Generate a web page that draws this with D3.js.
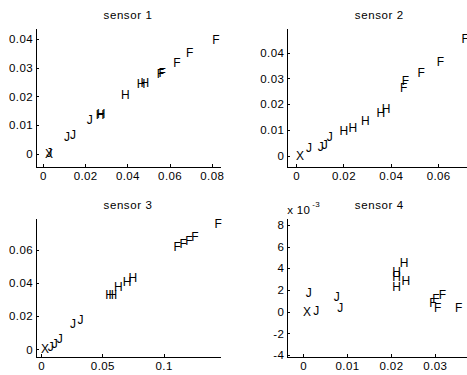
<!DOCTYPE html>
<html>
<head>
<meta charset="utf-8">
<script src="https://cdn.jsdelivr.net/npm/d3@7"></script>
<style>
  body { margin: 0; background: #fff; }
  svg { display: block; opacity: 0.999; }
  text { font-family: "Liberation Sans", Arial, sans-serif; fill: #000; }
</style>
</head>
<body>
<svg id="svg"></svg>
<script>
// class letters and values
var labels1 = ["X", "J", "J", "J", "J", "H", "H", "H", "H", "H", "F", "F", "F", "F", "F"];
var x1 = [0.001, 0.0015, 0.00995, 0.0128, 0.0207, 0.025, 0.0255, 0.037, 0.0444, 0.0462, 0.0539, 0.0548, 0.0618, 0.0678, 0.0802];
var y1 = [0, 0.0005, 0.0058, 0.0066, 0.0118, 0.0136, 0.014, 0.0205, 0.0243, 0.0248, 0.0278, 0.028, 0.0318, 0.035, 0.0397];

var labels2 = ["X", "J", "J", "J", "J", "H", "H", "H", "H", "H", "F", "F", "F", "F", "F"];
var x2 = [0, 0.0042, 0.0092, 0.0108, 0.013, 0.0183, 0.0221, 0.0274, 0.034, 0.0362, 0.0439, 0.0446, 0.0513, 0.0594, 0.0699];
var y2 = [0, 0.0029, 0.0035, 0.0042, 0.0074, 0.0096, 0.0106, 0.0136, 0.0165, 0.0181, 0.0264, 0.029, 0.032, 0.0363, 0.0453];

var labels3 = ["X", "J", "J", "J", "J", "J", "H", "H", "H", "H", "H", "F", "F", "F", "F", "F"];
var x3 = [0, 0.0055, 0.0087, 0.0128, 0.0237, 0.0297, 0.0523, 0.055, 0.0596, 0.0667, 0.0713, 0.108, 0.113, 0.1176, 0.1225, 0.1416];
var y3 = [0, 0.0012, 0.0032, 0.0062, 0.0151, 0.0177, 0.0328, 0.0328, 0.0378, 0.0405, 0.0429, 0.062, 0.0634, 0.0654, 0.0677, 0.0755];

// sensor 4 y values are in units of 10^-3
var labels4 = ["X", "J", "J", "J", "J", "H", "H", "H", "H", "H", "F", "F", "F", "F", "F"];
var x4 = [0, 0.0006, 0.0023, 0.007, 0.0078, 0.0203, 0.0203, 0.0203, 0.022, 0.0224, 0.0287, 0.0294, 0.0298, 0.0309, 0.0346];
var y4 = [0, 1.7, 0.06, 1.38, 0.37, 3.7, 3.2, 2.3, 4.46, 2.86, 0.77, 1.17, 0.31, 1.54, 0.31];

var xticks1 = [0, 0.02, 0.04, 0.06, 0.08], yticks1 = [0, 0.01, 0.02, 0.03, 0.04];
var xticks2 = [0, 0.02, 0.04, 0.06], yticks2 = [0, 0.01, 0.02, 0.03, 0.04];
var xticks3 = [0, 0.05, 0.1], yticks3 = [0, 0.02, 0.04, 0.06];
var xticks4 = [0, 0.01, 0.02, 0.03], yticks4 = [-4, -2, 0, 2, 4, 6, 8];

var width = 467, height = 375;
var svg = d3.select("#svg").attr("width", width).attr("height", height);

var panels = [
  {title: "sensor 1", labels: labels1, xs: x1, ys: y1, xt: xticks1, yt: yticks1,
   xdom: [-0.0033, 0.0839], ydom: [-0.0045, 0.0438], rect: {x1: 36, x2: 220, y1: 28, y2: 167}},
  {title: "sensor 2", labels: labels2, xs: x2, ys: y2, xt: xticks2, yt: yticks2,
   xdom: [-0.0037, 0.074], ydom: [-0.0044, 0.0496], rect: {x1: 287.3, x2: 471.3, y1: 28, y2: 167}},
  {title: "sensor 3", labels: labels3, xs: x3, ys: y3, xt: xticks3, yt: yticks3,
   xdom: [-0.0041, 0.146], ydom: [-0.0048, 0.0793], rect: {x1: 36, x2: 220, y1: 218, y2: 357.3}},
  {title: "sensor 4", labels: labels4, xs: x4, ys: y4, xt: xticks4, yt: yticks4,
   xdom: [-0.0036, 0.0383], ydom: [-4.2, 8.6], rect: {x1: 287.3, x2: 471.3, y1: 218.3, y2: 357.3}, exponent: "-3"}
];

function drawPanel(p) {
  var r = p.rect;
  var x = d3.scaleLinear().domain(p.xdom).range([r.x1, r.x2]);
  var y = d3.scaleLinear().domain(p.ydom).range([r.y2, r.y1]);
  var g = svg.append("g");

  var xa = g.append("g").attr("transform", "translate(0," + r.y2 + ")")
    .call(d3.axisBottom(x).tickValues(p.xt).tickFormat(function(d) { return String(d); })
      .tickSizeInner(-3).tickSizeOuter(0).tickPadding(5));
  var ya = g.append("g").attr("transform", "translate(" + r.x1 + ",0)")
    .call(d3.axisLeft(y).tickValues(p.yt).tickFormat(function(d) { return String(d); })
      .tickSizeInner(-3).tickSizeOuter(0).tickPadding(3));

  [xa, ya].forEach(function(a) {
    a.selectAll("path, line").attr("stroke", "#000").attr("shape-rendering", "crispEdges");
    a.selectAll("text").attr("font-size", 11.5).attr("letter-spacing", 0.4)
      .style("font-family", '"Liberation Sans", Arial, sans-serif').attr("fill", "#000");
  });

  g.append("text")
    .attr("x", (r.x1 + r.x2) / 2).attr("y", r.y1 - 13)
    .attr("text-anchor", "middle").attr("dominant-baseline", "central")
    .attr("font-size", 11.5).attr("letter-spacing", 0.6)
    .text(p.title);

  if (p.exponent) {
    var ex = g.append("text").attr("x", r.x1).attr("y", r.y1 - 8)
      .attr("font-size", 11.5).attr("dominant-baseline", "central").attr("letter-spacing", 0.3);
    ex.append("tspan").text("x 10");
    ex.append("tspan").attr("font-size", 8).attr("dy", -6).attr("dx", 2).text(p.exponent);
  }

  g.selectAll("text.pt")
    .data(p.labels)
    .enter().append("text")
    .attr("class", "pt")
    .attr("x", function(d, i) { return x(p.xs[i]); })
    .attr("y", function(d, i) { return y(p.ys[i]); })
    .attr("dominant-baseline", "central")
    .attr("font-size", 12)
    .text(function(d) { return d; });
}

panels.forEach(drawPanel);
</script>
</body>
</html>
